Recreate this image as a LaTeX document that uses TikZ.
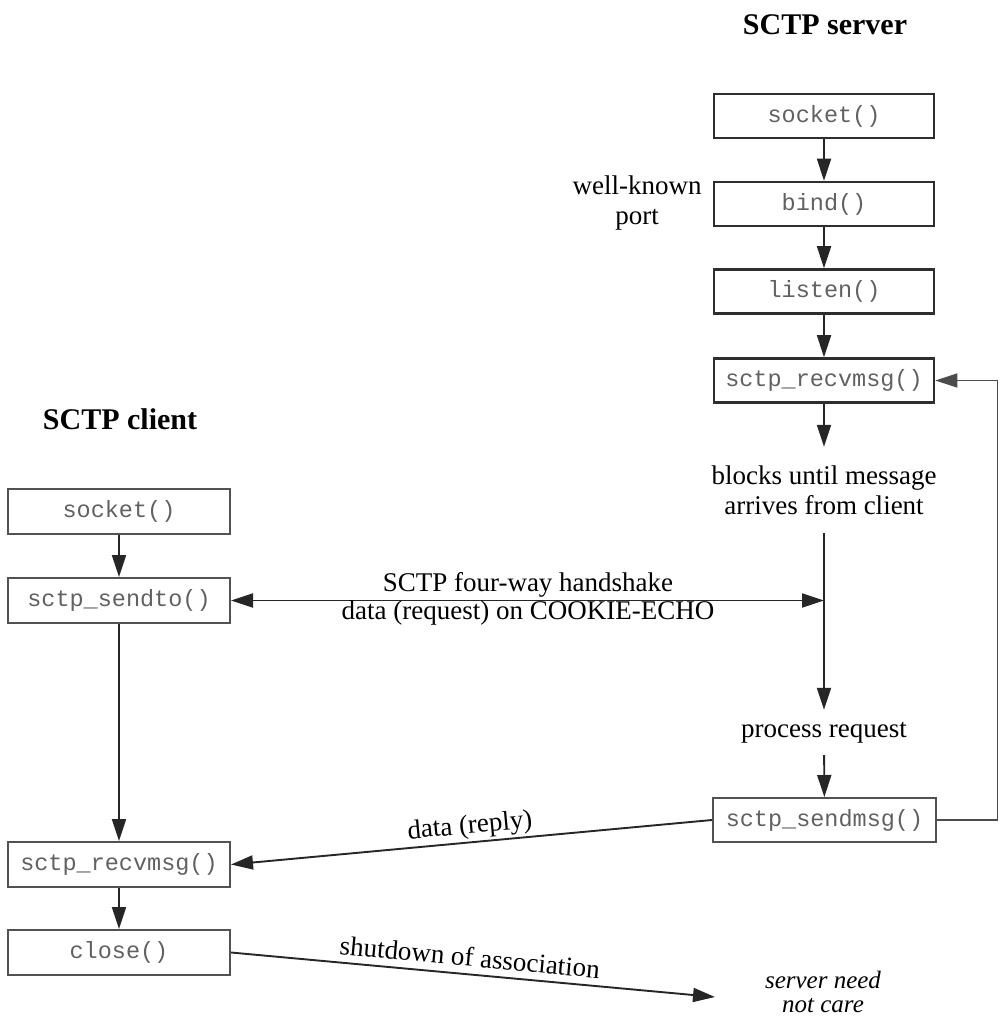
\documentclass[tikz,border=0pt]{standalone}
\usepackage{fontspec}
\setmainfont{Liberation Serif}
\newfontfamily\codefont{Liberation Mono}
\usetikzlibrary{arrows.meta}
\begin{document}
\begin{tikzpicture}[x=1pt,y=-1pt,
  fn/.style={rectangle, draw=black!82, line width=2.6pt, minimum width=220pt, minimum height=44pt, inner sep=0pt, font=\codefont\fontsize{23.5}{26}\selectfont, text=black!62},
  fnl/.style={fn, line width=2pt, draw=black!68},
  lbl/.style={font=\fontsize{27}{30}\selectfont, align=center, inner sep=0pt},
  head/.style={font=\bfseries\fontsize{30}{34}\selectfont, inner sep=0pt},
  tip/.tip={Triangle[length=22pt,width=14pt]},
  arr/.style={line width=1.9pt, draw=black!85, -tip},
]
\useasboundingbox (0,0) rectangle (999,1019);

% headings
\node[head] (sh) at (825,25) {SCTP server};
\node[head] (ch) at (120,419) {SCTP client};

% server column
\node[fn] (ssock) at (824,116) {socket()};
\node[fn] (sbind) at (824,204) {bind()};
\node[fn] (slist) at (824,291.5) {listen()};
\node[fn] (srecv) at (824,380.5) {sctp\_recvmsg()};
\node[lbl, minimum height=86pt] (blk) at (824,490) {blocks until message\\arrives from client};
\node[lbl, minimum height=45pt] (proc) at (824,732.5) {process request};
\node[fnl, minimum width=223pt] (ssend) at (824.5,820) {sctp\_sendmsg()};
\node[lbl] (wk) at (637,203) {well-known\\port};

% client column
\node[fnl, minimum width=222pt, minimum height=45pt] (csock) at (119,511.5) {socket()};
\node[fnl, minimum width=222pt, minimum height=45pt] (csend) at (119,600.5) {sctp\_sendto()};
\node[fnl, minimum width=222pt, minimum height=45pt] (crecv) at (119,864.5) {sctp\_recvmsg()};
\node[fnl, minimum width=222pt, minimum height=45pt] (cclose) at (119,952.5) {close()};

\node[lbl, font=\itshape\fontsize{25}{24}\selectfont] (sn) at (823,992) {server need\\not care};

% coordinates
\coordinate (hs) at (824,600.5);
\coordinate (lp) at (997.5,600);
\coordinate (sx) at (715,997);

% server arrows
\draw[arr] (ssock) -- (sbind);
\draw[arr] (sbind) -- (slist);
\draw[arr] (slist) -- (srecv);
\draw[arr] (srecv) -- (blk);
\draw[arr] (blk) -- (proc);
\draw[arr] (proc) -- (ssend);
\draw[line width=1.5pt, draw=black!70, -tip] (ssend.east) -- (ssend.east -| lp) -- (srecv.east -| lp) -- (srecv.east);

% client arrows
\draw[arr] (csock) -- (csend);
\draw[arr] (csend) -- (crecv);
\draw[arr] (crecv) -- (cclose);

% exchanges
\draw[arr, tip-tip] (csend.east) -- (hs);
\draw[arr] (ssend.west) -- (crecv.east);
\draw[arr] (cclose.east) -- (sx);

% exchange labels
\node[lbl, font=\fontsize{27}{28}\selectfont] (hsl) at (528,599) {SCTP four-way handshake\\data (request) on COOKIE-ECHO};
\node[lbl, rotate=5.3] (dr) at (470,827) {data (reply)};
\node[lbl, rotate=-5.3] (sd) at (470,957) {shutdown of association};
\end{tikzpicture}
\end{document}
